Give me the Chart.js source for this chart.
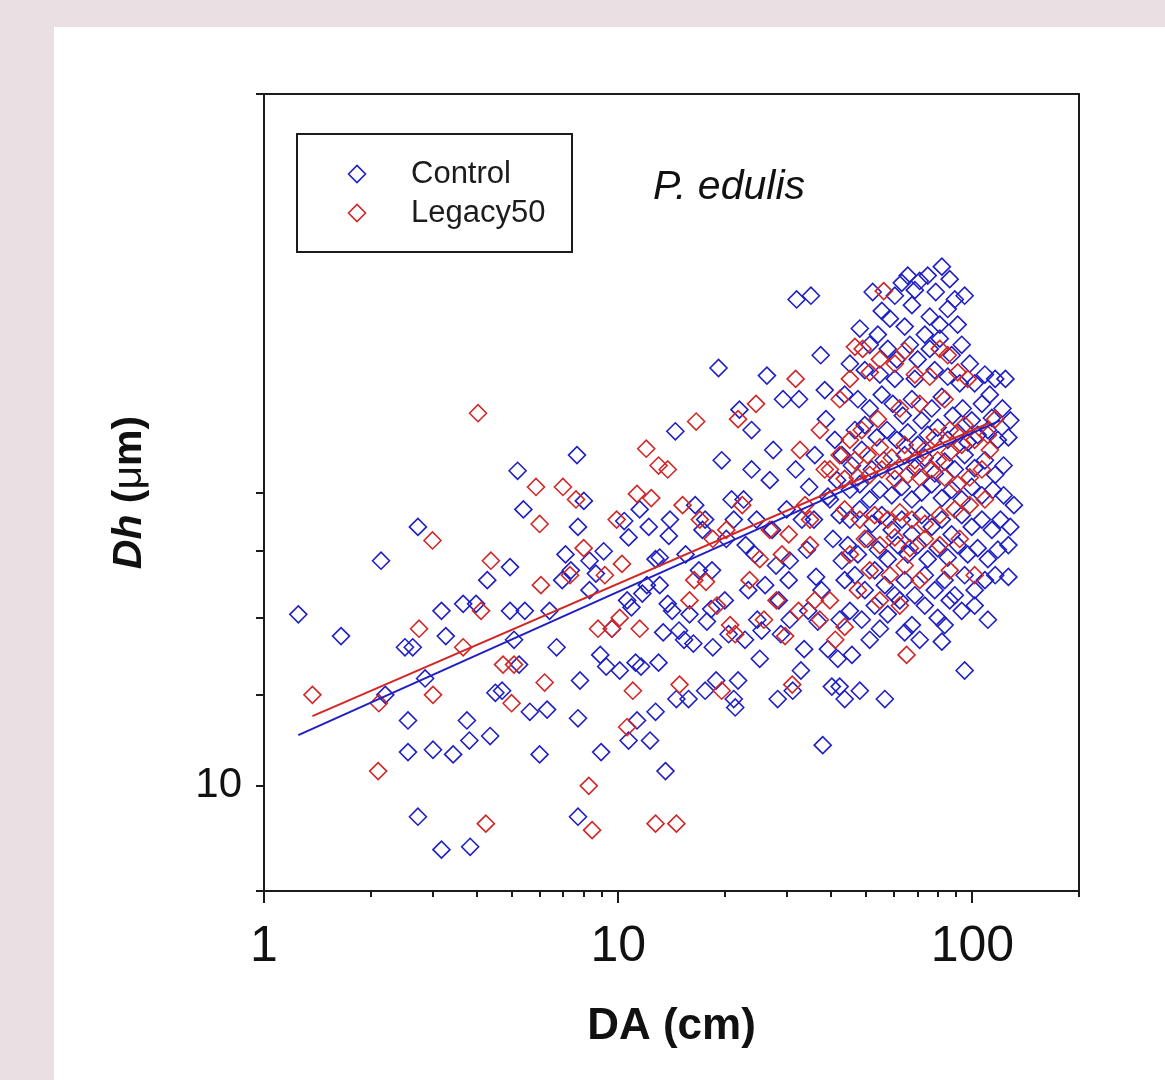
<!DOCTYPE html>
<html>
<head>
<meta charset="utf-8">
<script src="https://cdn.jsdelivr.net/npm/chart.js@4.4.1/dist/chart.umd.min.js"></script>
<style>
  html, body { margin: 0; padding: 0; background: #eae0e3; }
  canvas { display: block; }
</style>
</head>
<body>
<canvas id="chart" width="1165" height="1080"></canvas>
<script>
// values: [DA (cm), Dh (um)]
const control = [
  [1.25,14.1],[1.65,13.5],[2.14,15.7],[2.2,12.0],[2.5,13.2],[2.55,11.4],[2.55,10.7],[2.63,13.2],[2.72,16.8],[2.72,9.4],
  [2.85,12.4],[3.0,10.75],[3.17,14.2],[3.17,8.8],[3.26,13.5],[3.42,10.65],[3.65,14.4],[3.74,11.4],[3.82,8.85],[3.8,10.95],
  [3.97,14.4],[4.27,15.1],[4.35,11.05],[4.5,12.05],[4.7,12.1],[4.95,14.2],[5.08,13.4],[5.2,18.8],[5.25,12.75],[5.4,17.4],
  [4.95,15.5],[5.45,14.2],[5.63,11.6],[6.0,10.65],[6.3,11.65],[6.4,14.2],[6.7,13.2],[6.95,15.1],[7.1,15.9],[7.35,15.4],
  [7.65,19.4],[7.7,16.8],[7.7,11.45],[7.8,12.35],[7.7,9.4],[8.0,17.7],[8.3,15.7],[8.3,14.8],[8.65,15.3],[8.9,13.0],
  [8.95,10.7],[9.1,16.0],[9.25,12.7],[9.6,13.7],[10.1,12.6],[10.4,17.0],[10.6,14.5],[10.7,16.45],[10.7,10.95],[10.9,14.3],
  [11.2,12.8],[11.3,11.4],[11.6,12.7],[11.7,14.7],[12.05,14.95],[12.2,16.8],[12.3,10.95],[12.75,11.6],[13.0,12.8],[13.1,14.95],
  [13.1,15.8],[13.4,13.6],[13.6,10.3],[13.8,14.4],[13.9,16.5],[14.2,14.2],[14.5,20.35],[14.6,11.9],[14.85,13.65],[15.35,13.4],
  [15.8,11.9],[15.9,14.1],[16.3,13.3],[16.9,15.4],[17.3,16.7],[17.6,17.05],[17.8,13.9],[18.3,14.25],[18.5,13.2],[18.9,12.35],
  [19.2,23.1],[19.6,19.2],[20.2,16.4],[20.5,13.55],[20.9,17.75],[21.2,11.9],[21.4,11.7],[21.8,12.35],[22.0,21.25],[22.6,17.75],
  [22.9,16.2],[23.3,14.8],[23.8,18.85],[24.3,15.9],[24.7,13.95],[25.1,12.9],[25.4,13.65],[26.3,22.75],[26.8,18.45],[27.2,16.7],
  [27.9,15.55],[28.4,14.5],[28.8,13.55],[29.2,21.7],[29.9,17.4],[30.3,15.1],[30.5,13.95],[31.1,12.1],[31.7,18.85],[31.9,26.5],
  [32.4,21.7],[32.8,12.6],[33.5,13.15],[34.1,16.05],[34.6,18.2],[35.0,26.7],[35.7,17.05],[36.2,15.2],[36.6,13.9],[37.3,23.7],
  [37.8,10.85],[38.3,22.1],[39.1,17.85],[39.6,17.75],[40.1,12.2],[40.9,20.0],[41.7,12.9],[42.2,13.95],[42.8,15.7],
  [11.5,17.4],[12.75,15.75],[14.0,17.05],[15.5,15.9],[16.5,17.55],[17.6,12.1],[18.4,15.4],[20.0,14.5],[21.2,17.05],[22.8,13.4],
  [23.8,20.4],[24.6,17.05],[26.0,14.95],[27.4,19.6],[28.2,11.9],[30.5,15.7],[33.0,17.05],[34.4,14.2],[35.9,19.4],[37.5,14.8],
  [39.1,13.15],[40.4,16.4],[41.5,18.45],[38.6,20.85],[43.6,11.9],
  [52.3,26.9],[55.5,25.9],[60.4,26.7],[63.2,27.4],[65.7,27.8],[68.8,27.0],[71.0,27.5],[74.8,27.8],[78.8,26.9],[82.0,28.3],
  [86.3,27.6],[89.2,26.5],[95.1,26.7],[85.2,26.0],[75.8,25.6],[67.5,26.2],[58.5,25.5],[64.4,25.1],[73.4,24.7],[80.9,25.2],[90.9,25.2],
  [48.1,25.0],[51.3,24.2],[54.1,24.7],[57.7,24.0],[61.2,23.5],[66.6,24.2],[70.1,23.5],[75.8,24.0],[80.9,24.5],[87.4,23.7],
  [93.3,24.2],[98.3,23.3],[108.5,22.8],[116,22.6],[124,22.6],[45.1,23.3],[49.7,23.0],[54.8,22.8],[60.4,22.6],[68.8,22.6],
  [78.3,23.0],[85.2,22.7],[92.1,22.4],[101.5,22.4],[112,21.9],
  [43.6,21.9],[47.5,21.7],[51.3,21.3],[55.5,21.9],[59.6,21.5],[63.6,21.0],[67.5,21.7],[71.9,20.8],[76.8,21.3],[82.0,21.8],
  [88.0,21.0],[93.9,21.3],[99.6,20.8],[106.4,21.5],[113.5,20.9],[121.6,21.3],[128,20.8],[46.6,20.4],[49.7,20.6],[53.7,20.1],
  [57.4,20.4],[61.2,20.0],[65.7,20.3],[70.1,19.8],[74.8,20.2],[79.8,20.5],[85.2,20.0],[90.9,20.3],[97.0,19.9],[103.5,20.2],
  [110.6,20.4],[118,20.0],[126.4,20.1],
  [42.8,19.4],[45.7,19.0],[48.7,19.6],[52.0,18.85],[56.2,19.2],[60.4,18.8],[64.4,19.4],[68.8,18.9],[73.4,19.3],[78.3,18.7],
  [83.5,19.15],[89.2,18.85],[95.1,19.4],[101.5,18.9],[108.5,19.2],[116,18.65],[122.5,19.0],[45.1,18.1],[48.1,18.3],[51.3,17.75],
  [54.8,18.1],[59.2,17.9],[63.2,18.2],[67.5,17.75],[71.9,18.0],[76.8,18.3],[82.0,17.8],[87.4,18.1],[93.3,17.75],[99.6,18.2],
  [106.4,17.9],[114.3,18.1],[122.5,17.9],[131,17.55],
  [42.2,17.2],[45.1,17.05],[48.1,17.4],[52.0,16.9],[55.5,17.2],[59.2,16.7],[63.2,17.05],[67.5,16.55],[71.9,17.2],[76.8,16.8],
  [82.0,17.05],[87.4,16.55],[93.3,17.2],[99.6,16.8],[106.4,17.05],[113.5,16.7],[120,17.05],[128,16.8],[44.5,16.2],[47.5,15.9],
  [50.6,16.4],[54.1,16.05],[57.7,15.75],[61.6,16.2],[65.7,15.9],[70.1,16.2],[74.8,15.75],[79.8,16.1],[85.2,15.8],[90.9,16.2],
  [97.0,15.9],[103.5,16.1],[110.6,15.75],[118,16.05],[126.4,16.2],
  [43.6,15.1],[46.6,15.25],[49.7,14.8],[53.0,15.4],[56.6,14.95],[60.4,14.65],[64.4,15.1],[68.8,14.65],[73.4,15.25],[78.3,14.8],
  [83.5,15.1],[89.2,14.65],[95.1,15.25],[101.5,14.8],[108.5,15.1],[116,15.25],[126.4,15.2],[45.1,14.2],[48.7,13.95],[53.0,14.35],
  [57.7,14.1],[62.4,14.5],[67.5,13.8],[73.4,14.35],[79.8,14.0],[86.3,14.5],[93.3,14.2],[101.5,14.35],[110.6,13.95],[51.3,13.4],
  [54.8,13.7],[64.4,13.6],[71.0,13.4],[82.0,13.35],[95.1,12.6],
  [48.1,12.1],[56.6,11.9],[42.2,12.2],[45.7,13.0],[83.5,13.8]
];

const legacy50 = [
  [1.37,12.0],[2.1,10.3],[2.11,11.8],[2.99,16.35],[2.74,13.7],[3.0,12.0],[4.37,15.7],[4.02,21.1],[4.1,14.2],[4.23,9.27],
  [3.65,13.2],[4.73,12.75],[5.0,11.8],[5.08,12.75],[5.86,18.2],[6.0,16.9],[6.05,14.95],[6.2,12.3],[6.98,18.2],[7.31,15.25],
  [7.6,17.75],[7.99,16.1],[8.26,10.0],[8.44,9.15],[8.77,13.7],[9.17,15.25],[9.6,13.7],[10.1,14.0],[10.25,15.6],[10.6,11.25],
  [11.0,12.1],[11.5,13.7],[12.0,19.65],[12.4,17.8],[12.75,9.27],[13.0,19.0],[13.8,18.85],[14.6,9.27],[14.9,12.25],[15.2,17.55],
  [15.9,14.5],[16.4,15.1],[17.0,17.05],[17.7,15.05],[18.5,16.4],[19.0,14.35],[19.6,12.1],[20.2,16.7],[20.7,13.8],[21.4,13.55],
  [21.8,20.85],[22.4,17.55],[23.5,15.1],[24.5,21.5],[25.1,15.75],[25.8,13.95],[26.8,16.7],[28.0,14.5],[29.0,15.9],[29.6,13.5],
  [30.3,16.55],[31.0,12.25],[31.7,22.6],[32.3,14.2],[32.6,19.6],[33.7,17.55],[34.8,16.2],[35.9,14.5],[37.1,20.4],
  [16.6,20.75],[11.3,17.95],[9.9,17.05],
  [42.2,21.7],[45.1,22.6],[46.6,24.1],[49.0,24.0],[51.3,22.9],[54.8,23.5],[56.2,26.95],[60.4,23.3],[64.4,23.9],[68.8,22.8],
  [75.8,22.7],[80.9,24.0],[85.2,23.7],[90.9,22.9],[97.0,22.6],[83.5,21.7],[71.0,21.5],[62.4,21.3],[54.1,20.85],[48.7,20.4],
  [45.1,20.0],[42.2,19.4],[46.6,19.2],[50.6,19.4],[54.8,19.7],[59.2,19.3],[64.4,19.8],[68.8,19.2],[73.4,19.6],[79.8,19.2],
  [86.3,19.5],[93.3,19.8],[101.5,20.0],[110.6,20.2],[116,20.85],[95.1,20.6],[86.3,20.4],[78.3,20.1],[39.6,18.85],[43.6,18.5],
  [47.5,18.55],[51.3,18.65],[55.5,18.85],[60.4,18.5],[65.7,18.65],[71.0,18.55],[76.8,18.85],[83.5,18.55],[90.9,18.3],[98.3,18.55],
  [106.4,18.85],[112,19.6],[43.6,17.4],[48.1,17.05],[53.0,17.2],[57.7,17.05],[62.4,17.3],[67.5,17.05],[73.4,16.9],[80.9,17.2],
  [89.2,17.4],[98.3,17.55],[108.5,17.75],[49.7,16.4],[54.8,16.2],[60.4,16.45],[66.6,16.1],[73.4,16.4],[80.9,16.2],[92.1,16.4],
  [45.1,15.9],[51.3,15.4],[58.5,15.25],[64.4,15.55],[71.0,15.1],[86.3,15.4],[101.5,15.25],[54.8,14.5],[62.4,14.35],[47.5,14.8],
  [65.2,13.0],[43.6,13.75],[39.6,14.5],[41.0,13.4],[37.1,13.95],[38.3,18.85],[34.8,17.05]
];

// fitted power-law lines (two end points each)
const controlFit = [[1.25, 11.07], [120, 20.8]];
const legacyFit = [[1.37, 11.5], [112, 20.7]];

const xTicks = [1, 2, 3, 4, 5, 6, 7, 8, 9, 10, 20, 30, 40, 50, 60, 70, 80, 90, 100, 200];
const xLabels = [1, 10, 100];
const xMajor = [1, 10, 100];
const yTicks = [8.1, 10, 12, 14, 16, 18, 40];
const yLabels = [10];

const BLUE = "#1f1fc4";
const RED = "#d22727";
const INK = "#1c1c1c";
const FONT = '"Liberation Sans", Arial, sans-serif';

const toXY = pts => pts.map(([x, y]) => ({ x, y }));

const decorations = {
  id: "decorations",
  beforeDraw(chart) {
    const ctx = chart.ctx;
    ctx.save();
    ctx.fillStyle = "#eae0e3";
    ctx.fillRect(0, 0, chart.width, chart.height);
    ctx.fillStyle = "#ffffff";
    ctx.fillRect(54, 27, chart.width - 54, chart.height - 27);
    ctx.restore();
  },
  afterDraw(chart) {
    const ctx = chart.ctx;
    const a = chart.chartArea;
    const xs = chart.scales.x;
    ctx.save();

    // top and right frame
    ctx.strokeStyle = INK;
    ctx.lineWidth = 2;
    ctx.beginPath();
    ctx.moveTo(a.left - 8, a.top);
    ctx.lineTo(a.right, a.top);
    ctx.lineTo(a.right, a.bottom);
    ctx.stroke();

    // longer major ticks on x
    ctx.beginPath();
    xMajor.forEach(v => {
      const px = Math.round(xs.getPixelForValue(v));
      ctx.moveTo(px, a.bottom);
      ctx.lineTo(px, a.bottom + 12);
    });
    ctx.stroke();

    // legend box
    const bx = a.left + 33, by = a.top + 40, bw = 275, bh = 118;
    ctx.lineWidth = 2;
    ctx.strokeRect(bx, by, bw, bh);
    const items = chart.data.datasets.filter(d => d.inLegend);
    items.sort((p, q) => p.legendIndex - q.legendIndex);
    items.forEach((d, i) => {
      const cy = by + 40 + i * 39;
      ctx.strokeStyle = d.borderColor;
      ctx.fillStyle = "rgba(0,0,0,0)";
      ctx.lineWidth = 1.6;
      Chart.helpers.drawPoint(ctx, { pointStyle: "rectRot", radius: 8.5, borderWidth: 1.6 }, bx + 60, cy);
      ctx.fillStyle = INK;
      ctx.font = "31px " + FONT;
      ctx.textAlign = "left";
      ctx.textBaseline = "middle";
      ctx.fillText(d.label, bx + 114, cy);
    });

    // species name
    ctx.fillStyle = "#111";
    ctx.font = "italic 41px " + FONT;
    ctx.textAlign = "center";
    ctx.textBaseline = "middle";
    ctx.fillText("P. edulis", a.left + 465, a.top + 94);

    // y axis title: Dh (um) with italic Dh
    const parts = [
      { t: "Dh", f: "italic bold 41px " + FONT },
      { t: " (", f: "bold 41px " + FONT },
      { t: "\u03bc", f: "41px " + FONT },
      { t: "m)", f: "bold 41px " + FONT }
    ];
    let total = 0;
    parts.forEach(p => { ctx.font = p.f; p.w = ctx.measureText(p.t).width; total += p.w; });
    ctx.translate(130, (a.top + a.bottom) / 2);
    ctx.rotate(-Math.PI / 2);
    ctx.textAlign = "left";
    ctx.fillStyle = "#111";
    let cx = -total / 2;
    parts.forEach(p => { ctx.font = p.f; ctx.fillText(p.t, cx, 0); cx += p.w; });

    ctx.restore();
  }
};

new Chart(document.getElementById("chart"), {
  type: "scatter",
  data: {
    datasets: [
      {
        label: "Control fit", type: "line", data: toXY(controlFit),
        borderColor: BLUE, borderWidth: 2, pointRadius: 0, order: 0
      },
      {
        label: "Legacy50 fit", type: "line", data: toXY(legacyFit),
        borderColor: RED, borderWidth: 2, pointRadius: 0, order: 0
      },
      {
        label: "Legacy50", data: toXY(legacy50), inLegend: true, legendIndex: 1,
        pointStyle: "rectRot", pointRadius: 8.5, borderWidth: 1.6,
        borderColor: RED, backgroundColor: "rgba(0,0,0,0)", order: 1
      },
      {
        label: "Control", data: toXY(control), inLegend: true, legendIndex: 0,
        pointStyle: "rectRot", pointRadius: 8.5, borderWidth: 1.6,
        borderColor: BLUE, backgroundColor: "rgba(0,0,0,0)", order: 2
      }
    ]
  },
  options: {
    responsive: false,
    animation: false,
    devicePixelRatio: 1,
    layout: { padding: { top: 94, right: 86, left: 0, bottom: 0 } },
    plugins: { legend: { display: false }, tooltip: { enabled: false } },
    scales: {
      x: {
        type: "logarithmic", min: 1, max: 200, position: "bottom",
        afterFit: s => { s.height = 189; },
        afterBuildTicks: s => { s.ticks = xTicks.map(v => ({ value: v })); },
        ticks: {
          autoSkip: false, maxRotation: 0, padding: 20, color: "#111",
          font: { family: FONT, size: 50 },
          callback: v => (xLabels.includes(v) ? String(v) : "")
        },
        grid: { drawOnChartArea: false, drawTicks: true, tickLength: 6, color: INK, lineWidth: 2 },
        border: { display: true, color: INK, width: 2 },
        title: {
          display: true, text: "DA (cm)", color: "#111",
          font: { family: FONT, size: 44, weight: "bold" },
          padding: { top: 0, bottom: 27 }
        }
      },
      y: {
        type: "logarithmic", min: 8.1, max: 40, position: "left",
        afterFit: s => { s.width = 264; },
        afterBuildTicks: s => { s.ticks = yTicks.map(v => ({ value: v })); },
        ticks: {
          autoSkip: false, padding: 14, color: "#111",
          font: { family: FONT, size: 42 },
          callback: v => (yLabels.includes(v) ? String(v) : "")
        },
        grid: { drawOnChartArea: false, drawTicks: true, tickLength: 8, color: INK, lineWidth: 2 },
        border: { display: true, color: INK, width: 2 }
      }
    }
  },
  plugins: [decorations]
});
</script>
</body>
</html>
